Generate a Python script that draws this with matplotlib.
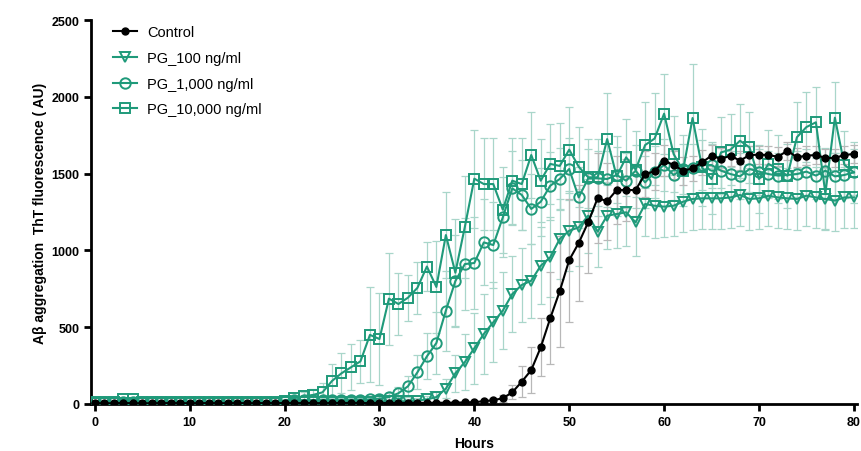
import numpy as np
import matplotlib.pyplot as plt

plt.rcParams['font.family'] = ['Liberation Sans', 'DejaVu Sans']

# horas de medicion (0 a 80 h)
hours = np.arange(0, 81)

# valores
control = [5, 4, 5, 6, 5, 4, 5, 5, 6, 5,
           5, 5, 6, 5, 5, 6, 5, 5, 6, 5,
           6, 5, 6, 6, 5, 6, 6, 7, 6, 6,
           7, 6, 7, 7, 8, 7, 8, 8, 9, 10,
           12, 18, 25, 37, 76, 145, 221, 369, 558, 734,
           937, 1048, 1183, 1341, 1320, 1393, 1393, 1393, 1497, 1515,
           1584, 1556, 1519, 1534, 1573, 1617, 1595, 1617, 1584, 1621,
           1623, 1621, 1610, 1649, 1606, 1617, 1621, 1602, 1602, 1621,
           1628]
control_err = [3, 3, 3, 3, 3, 3, 3, 3, 3, 3,
               3, 3, 3, 3, 3, 3, 3, 3, 3, 3,
               3, 3, 3, 3, 3, 3, 3, 4, 4, 4,
               4, 4, 4, 4, 5, 5, 5, 5, 6, 6,
               8, 10, 14, 22, 45, 100, 150, 190, 300, 360,
               400, 380, 330, 290, 250, 220, 200, 170, 150, 120,
               100, 90, 90, 80, 80, 70, 70, 70, 60, 60,
               60, 60, 60, 60, 60, 60, 60, 60, 60, 60,
               60]

pg100 = [8, 8, 8, 8, 8, 8, 8, 8, 8, 8,
         8, 8, 8, 8, 8, 8, 8, 8, 8, 8,
         12, 13, 14, 14, 15, 15, 15, 16, 16, 16,
         17, 17, 18, 18, 22, 30, 45, 100, 200, 273,
         363, 456, 532, 608, 716, 775, 803, 900, 955, 1074,
         1128, 1150, 1226, 1122, 1226, 1237, 1248, 1183, 1302, 1291,
         1285, 1291, 1317, 1335, 1339, 1339, 1339, 1345, 1361, 1335,
         1339, 1356, 1345, 1339, 1335, 1356, 1345, 1335, 1324, 1345,
         1345]
pg100_err = [5, 5, 5, 5, 5, 5, 5, 5, 5, 5,
             5, 5, 5, 5, 5, 5, 5, 5, 5, 5,
             8, 8, 8, 8, 8, 8, 8, 8, 8, 8,
             10, 10, 10, 12, 15, 20, 30, 60, 120, 180,
             230, 260, 260, 250, 250, 240, 240, 250, 260, 260,
             260, 250, 240, 230, 220, 220, 220, 220, 210, 210,
             200, 200, 200, 200, 200, 200, 200, 200, 200, 200,
             200, 200, 200, 200, 200, 200, 200, 200, 200, 200,
             200]

pg1000 = [10, 10, 10, 10, 10, 10, 10, 10, 10, 10,
          10, 10, 10, 10, 10, 10, 10, 10, 10, 10,
          22, 24, 25, 25, 26, 26, 27, 27, 28, 30,
          35, 45, 70, 115, 206, 310, 397, 608, 800, 911,
          918, 1052, 1035, 1215, 1404, 1361, 1270, 1317, 1421, 1465,
          1530, 1345, 1469, 1469, 1465, 1491, 1454, 1519, 1443, 1508,
          1556, 1491, 1530, 1534, 1556, 1556, 1519, 1497, 1482, 1530,
          1513, 1497, 1487, 1491, 1497, 1513, 1487, 1519, 1482, 1491,
          1508]
pg1000_err = [6, 6, 6, 6, 6, 6, 6, 6, 6, 6,
              6, 6, 6, 6, 6, 6, 6, 6, 6, 6,
              10, 10, 10, 10, 10, 10, 12, 12, 12, 15,
              20, 25, 40, 70, 110, 150, 200, 260, 300, 300,
              300, 280, 280, 260, 240, 230, 230, 220, 220, 200,
              200, 200, 190, 180, 180, 180, 180, 170, 170, 170,
              170, 160, 160, 160, 160, 150, 150, 150, 150, 150,
              150, 150, 150, 150, 150, 150, 150, 150, 150, 150,
              150]

pg10000 = [12, 12, 14, 30, 30, 14, 12, 12, 12, 12,
           12, 12, 12, 12, 12, 12, 12, 12, 12, 14,
           20, 37, 50, 59, 76, 150, 200, 239, 278, 450,
           423, 686, 651, 692, 756, 895, 762, 1100, 855, 1153,
           1467, 1432, 1432, 1265, 1454, 1432, 1621, 1454, 1563, 1550,
           1656, 1545, 1476, 1476, 1725, 1482, 1606, 1526, 1686, 1728,
           1890, 1628, 1520, 1862, 1540, 1465, 1638, 1656, 1714, 1671,
           1465, 1563, 1530, 1486, 1737, 1803, 1834, 1370, 1864, 1558,
           1508]
pg10000_err = [6, 6, 6, 8, 8, 6, 6, 6, 6, 6,
               6, 6, 6, 6, 6, 6, 6, 6, 6, 8,
               10, 20, 30, 40, 60, 110, 130, 150, 140, 310,
               300, 300, 200, 150, 170, 160, 300, 280, 350, 330,
               320, 300, 300, 280, 280, 300, 280, 270, 260, 280,
               280, 260, 250, 250, 300, 260, 250, 250, 280, 300,
               260, 250, 230, 350, 250, 230, 230, 230, 240, 230,
               220, 220, 220, 210, 230, 230, 230, 230, 232, 220,
               200]

teal = '#1f9a7a'
teal_bar = '#a9d6ca'
gray_bar = '#b8b8b8'

fig = plt.figure(figsize=(8.61, 4.52), dpi=100)
ax = fig.add_axes([0.1057, 0.104, 0.8893, 0.8495])

# barras de error (detras)
ax.errorbar(hours, pg10000, yerr=pg10000_err, fmt='none', ecolor=teal_bar, elinewidth=0.9, capsize=3, capthick=0.9, zorder=1)
ax.errorbar(hours, pg1000, yerr=pg1000_err, fmt='none', ecolor=teal_bar, elinewidth=0.9, capsize=3, capthick=0.9, zorder=1)
ax.errorbar(hours, pg100, yerr=pg100_err, fmt='none', ecolor=teal_bar, elinewidth=0.9, capsize=3, capthick=0.9, zorder=1)
ax.errorbar(hours, control, yerr=control_err, fmt='none', ecolor=gray_bar, elinewidth=0.9, capsize=3, capthick=0.9, zorder=1)

# series
l1, = ax.plot(hours, control, color='black', marker='o', markersize=5, lw=1.5, zorder=5, label='Control')
l2, = ax.plot(hours, pg100, color=teal, marker='v', markersize=7.5, mfc='none', mew=1.4, lw=1.5, zorder=3, label='PG_100 ng/ml')
l3, = ax.plot(hours, pg1000, color=teal, marker='o', markersize=7.5, mfc='none', mew=1.4, lw=1.5, zorder=3, label='PG_1,000 ng/ml')
l4, = ax.plot(hours, pg10000, color=teal, marker='s', markersize=7, mfc='none', mew=1.4, lw=1.5, zorder=4, label='PG_10,000 ng/ml')

ax.set_xlim(-0.4, 80.3)
ax.set_ylim(0, 2500)
ax.set_xticks(np.arange(0, 81, 10))
ax.set_yticks(np.arange(0, 2501, 500))

for s in ['top', 'right']:
    ax.spines[s].set_visible(False)
for s in ['left', 'bottom']:
    ax.spines[s].set_linewidth(2)
ax.tick_params(axis='both', width=2, length=5, labelsize=9)
for t in ax.get_xticklabels() + ax.get_yticklabels():
    t.set_fontweight('bold')

ax.set_xlabel('Hours', fontsize=10, fontweight='bold', labelpad=6)
ax.set_ylabel('A\u03b2 aggregation  ThT fluorescence ( AU)', fontsize=10, fontweight='bold', labelpad=3)

ax.legend(handles=[l1, l2, l3, l4], loc='upper left', bbox_to_anchor=(0.012, 1.02), frameon=False,
          fontsize=10.5, labelspacing=0.8, handlelength=1.6, handletextpad=0.7)

fig.savefig('out.png', dpi=100)
